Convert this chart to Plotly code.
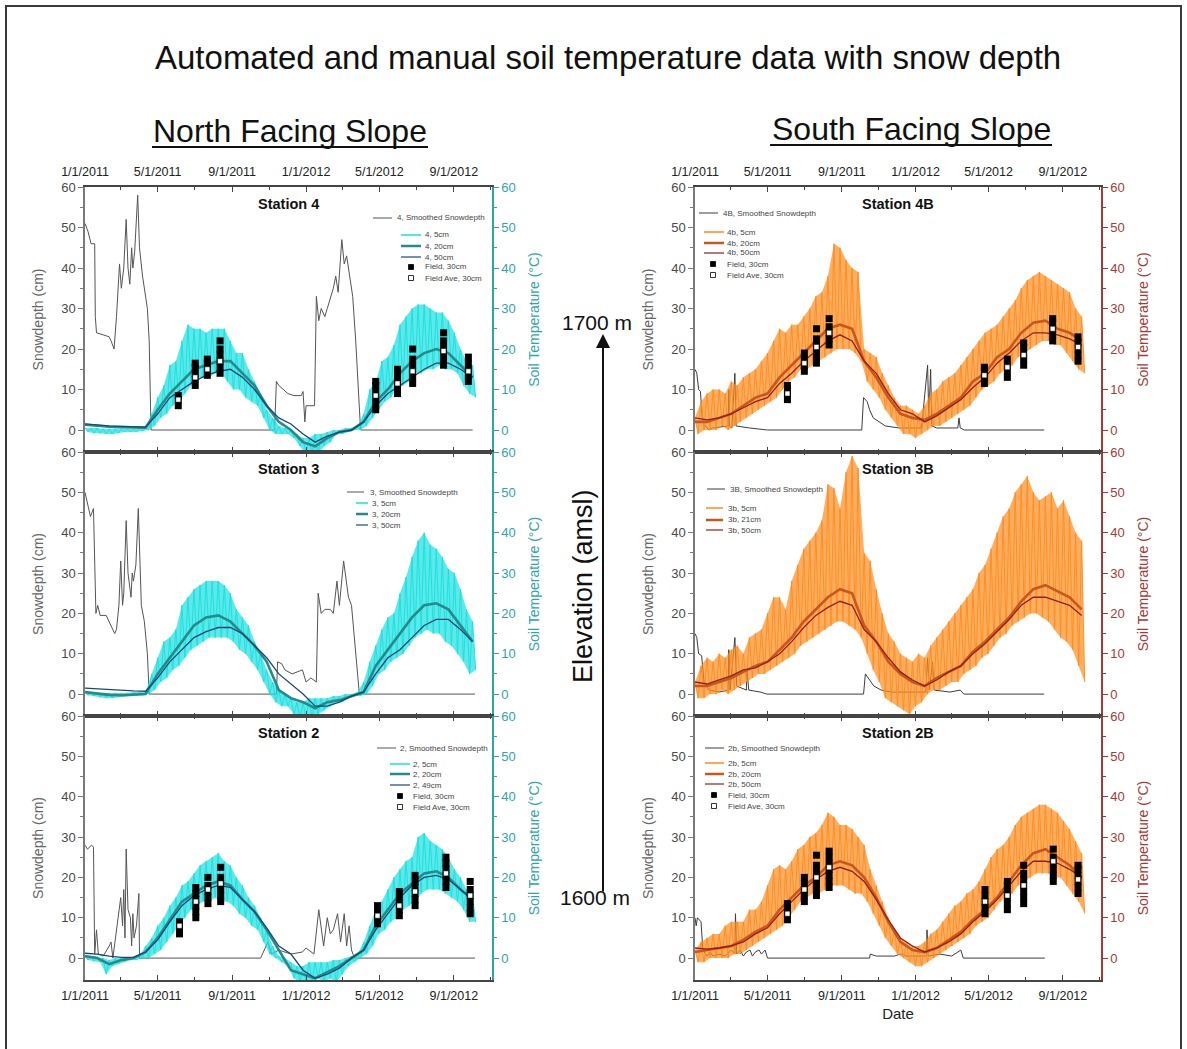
import plotly.graph_objects as go
import pandas as pd

W, H = 1187, 1049
BASE = pd.Timestamp("2011-01-01")

# ---------------- axes / ticks ----------------
TICK_DATES = ["2011-01-01", "2011-05-01", "2011-09-01", "2012-01-01", "2012-05-01", "2012-09-01"]
TICK_TEXT = ["1/1/2011", "5/1/2011", "9/1/2011", "1/1/2012", "5/1/2012", "9/1/2012"]
MINOR_DATES = ["2011-03-01", "2011-07-01", "2011-11-01", "2012-03-01", "2012-07-01", "2012-11-01"]
X_RANGE = ["2011-01-01", "2012-11-03"]
Y_TICKS = [0, 10, 20, 30, 40, 50, 60]
Y_MINOR = [5, 15, 25, 35, 45, 55]
Y_RANGE = [-5.43, 60]

# sampling days (offset from 1/1/2011)
GRID10 = list(range(0, 641, 10))
GRID20 = list(range(0, 641, 20))

# ---------------- Station 4 ----------------
S4_SNOW_DAY = [0, 5, 10, 16, 17, 19, 30, 40, 43, 48, 52, 57, 60, 64, 68, 71, 74, 77, 79, 82, 87, 90, 95, 98, 103, 106, 109,
               313, 316, 320, 328, 335, 345, 357, 360, 363, 365, 379, 382, 386, 390, 396, 400, 404, 410, 414, 418, 424,
               428, 432, 437, 442, 447, 451, 455, 640]
S4_SNOW = [51, 49, 46, 46, 28, 24, 23.5, 23, 22, 20, 28, 41, 35, 40, 52, 40, 36, 45, 40, 44, 58, 45, 38, 35, 30, 22, 0,
           0, 12, 11, 10, 9, 8.5, 8.5, 9.5, 2, 6, 6, 33, 27, 30, 28, 30, 32, 35, 38, 34, 47,
           41, 43, 38, 33, 22, 12, 0, 0]
S4_T5_HI = [0.5, 0.5, 0.5, 0.3, 0.3, 0.3, 0.3, 0.3, 0.3, 0.5, 0.5, 4, 8, 11, 16, 17, 22, 26, 25, 25,
            24, 25, 25, 25, 22, 19, 19, 15, 12, 9, 5, 3, 1, 0.5, 0, -1, -2, -2, -1, -1,
            -0.5, 0, 0, 0.5, 0.5, 1, 4, 10, 12, 17, 18, 21, 26, 28, 30, 31, 31, 30, 29, 29,
            27, 24, 20, 17, 16]
S4_T5_LO = [-0.5, -0.8, -0.8, -1, -1, -0.8, -0.5, -0.5, -0.5, -0.3, 0, 1, 3, 4, 6, 7, 9, 11, 13, 13,
            13, 14, 14, 12, 10, 10, 8, 7, 6, 3, 0, -1, -1, -1, -2, -4, -6, -6, -6, -4,
            -3, -1, -1, -0.5, 0, 0, 1, 3, 5, 7, 8, 10, 11, 12, 14, 14, 15, 15, 16, 15,
            15, 14, 11, 9, 8]
S4_T20 = [1.3, 1.0, 0.8, 0.7, 0.6, 0.6, 5, 9, 12, 15, 16, 17, 17,
          14, 11, 6, 2, 0, -3, -4, -2, -0.5, 0, 2, 7, 10, 14, 17, 19, 20, 19, 16, 13]
S4_T50 = [1.5, 1.2, 1.0, 0.9, 0.8, 0.7, 4, 8, 10, 12, 13.5, 14.5, 15,
          13, 10, 6, 3, 1.5, -1, -3, -1.5, -0.5, 0, 2, 6, 9, 11, 13, 15, 16.5, 16.5, 15, 13]
S4_FIELD_DAY = [154, 182, 202, 223, 480, 516, 541, 592, 633]
S4_FIELD = [[6, 7.5, 8.5], [11, 12.5, 14, 15.5, 16.5], [13.5, 15, 16.5, 17.5], [14, 15.5, 17, 18.5, 20, 22],
            [5, 6.5, 8, 9.5, 11, 12], [9, 10.5, 12, 13.5, 15], [11.5, 13, 14.5, 16, 17.5, 20],
            [16, 17.5, 19, 20.5, 22, 24], [12, 13.5, 15, 16.5, 18]]
S4_FIELD_AVE = [7.5, 13, 15, 17, 8.5, 11.5, 14.5, 19.5, 14.5]
S4_LABELS = ["4, Smoothed Snowdepth", "4, 5cm", "4, 20cm", "4, 50cm", "Field, 30cm", "Field Ave, 30cm"]

# ---------------- Station 3 ----------------
S3_SNOW_DAY = [0, 6, 9, 14, 18, 21, 25, 35, 40, 46, 49, 52, 56, 59, 62, 64, 68, 71, 73, 76, 78, 80, 84, 88, 93, 98, 103, 106,
               316, 318, 325, 330, 342, 359, 365, 373, 382, 385, 390, 396, 405, 410, 416, 420, 427, 431, 435, 440, 444,
               449, 453, 644]
S3_SNOW = [50, 46, 44, 46, 20, 22, 19.5, 19.5, 18, 16, 15, 16, 22, 33, 22, 25, 43, 30, 28, 24, 30, 28, 32, 46, 22, 18, 10, 0,
           0, 8, 7.5, 6, 5, 6, 3, 4, 3, 25, 20, 21, 21, 20, 28, 22, 33, 28, 24, 22, 15,
           8, 0, 0]
S3_T5_HI = [0.5, 0.5, 0.3, 0.3, 0.3, 0.3, 0.3, 0.3, 0.5, 0.5, 0.5, 5, 9, 13, 14, 16, 22, 24, 26, 27,
            28, 28, 28, 27, 25, 21, 19, 17, 13, 10, 6, 3, 1, 0, -1, -2, -2, -1, -1, -1,
            -1, -0.5, -0.5, 0, 0, 0.5, 3, 8, 12, 16, 19, 20, 25, 29, 34, 38, 40, 37, 36, 34,
            31, 30, 26, 21, 18]
S3_T5_LO = [-0.3, -0.5, -0.8, -1, -1, -0.8, -0.6, -0.5, -0.4, -0.3, 0, 1, 3, 4, 6, 7, 9, 11, 12, 13,
            14, 14, 14, 14, 13, 11, 10, 8, 6, 3, 0, -2, -3, -3, -5, -6, -6, -6, -5, -4,
            -3, -2, -2, -1, -0.5, -0.5, 0, 2, 5, 6, 8, 9, 10, 12, 14, 15, 16, 15, 15, 13,
            12, 10, 8, 5, 6]
S3_T20 = [0.5, 0.2, -0.2, -0.3, -0.1, 0, 5, 9, 13, 17, 19, 19.5, 18,
          15, 12, 8, 1, -1, -2, -3.5, -2, -1.5, -0.5, 0.5, 7, 11, 15, 19, 22, 22.5, 21, 17, 13]
S3_T50 = [1.5, 1.3, 1.1, 0.9, 0.8, 0.7, 4, 8, 11, 14, 15.5, 16.5, 16.5,
          15, 12, 9, 5, 2.5, 0, -3, -3, -2, -0.5, 0.5, 5, 9, 11, 14, 17, 18.5, 18.5, 16, 13]
S3_LABELS = ["3, Smoothed Snowdepth", "3, 5cm", "3, 20cm", "3, 50cm"]

# ---------------- Station 2 ----------------
S2_SNOW_DAY = [0, 4, 11, 14, 16, 19, 22, 30, 40, 43, 46, 59, 62, 64, 66, 68, 71, 75, 77, 79, 81, 85, 89, 90,
               290, 296, 302, 308, 320, 340, 359, 365, 378, 386, 390, 394, 400, 405, 410, 417, 422, 428, 432, 436,
               440, 445, 644]
S2_SNOW = [28, 27, 28, 27.5, 1, 7, 1, 0.5, 3, 4, 0, 15, 8, 17, 5, 27, 12, 10, 3, 11, 5, 8, 16, 0,
           0, 2, 4, 1, 2, 1, 1.5, 2.5, 1, 12, 8, 3, 10, 6, 7, 11, 4, 11, 3, 8,
           2, 0, 0]
S2_T5_HI = [0.5, 0.5, 0.3, 0, -0.5, 0, 0, 0, 0, 0.5, 3, 5, 8, 10, 13, 15, 18, 19, 21, 23,
            24, 25, 26, 24, 23, 20, 18, 15, 13, 10, 7, 3, 0.5, 0, -1, -2, -2, -1, -1, -1,
            -1, -0.5, -0.5, 0, 0.5, 1, 4, 8, 12, 14, 17, 20, 22, 24, 25, 30, 31, 29, 28, 27,
            25, 22, 20, 17, 15]
S2_T5_LO = [-0.5, -0.8, -1, -4, -2, -1.5, -1, -0.5, -0.5, 0, 0, 1, 2, 4, 6, 8, 10, 12, 13, 14,
            14, 15, 14, 14, 13, 11, 10, 8, 7, 4, 1, 0, -1, -2, -5, -6, -6, -6, -5, -6,
            -5, -6, -4, -2, -1, 0, 1, 3, 6, 7, 9, 10, 12, 13, 14, 16, 17, 17, 17, 16,
            15, 14, 12, 9, 9]
S2_T20 = [0.5, 0, -1.5, -0.5, 0, 1.5, 5, 9.5, 14, 16, 18, 19, 18,
          14.5, 11.5, 7, 2, -3, -4, -5, -3.5, -2, 0, 2, 8, 12, 16, 18.5, 21, 21.5, 20, 17, 14.5]
S2_T49 = [1.2, 1.0, 0.5, 0.2, 0.2, 1.5, 4.5, 9, 13, 15.5, 17, 18, 17.5,
          14.5, 11.5, 7.5, 3, 1, -3, -5, -4, -2.5, 0, 2, 7, 11, 15, 18, 20, 20.5, 19.5, 17, 14.5]
S2_FIELD_DAY = [156, 183, 203, 224, 483, 519, 545, 596, 636]
S2_FIELD = [[6, 7.5, 9], [10, 11.5, 13, 14.5, 16, 17.5], [13.5, 15, 16.5, 18, 20], [14, 15.5, 17, 18.5, 20, 22.5],
            [8.5, 10, 11.5, 13], [10.5, 12, 13.5, 15, 16.5], [13, 14.5, 16, 17.5, 19, 20.5],
            [17.5, 19, 20.5, 22, 23.5, 25], [11, 12.5, 14, 15.5, 17, 19]]
S2_FIELD_AVE = [8, 14, 17, 18.5, 10.5, 13, 16.5, 21, 15.5]
S2_LABELS = ["2, Smoothed Snowdepth", "2, 5cm", "2, 20cm", "2, 49cm", "Field, 30cm", "Field Ave, 30cm"]

# ---------------- Station 4B ----------------
S4B_SNOW_DAY = [0, 3, 6, 9, 12, 17, 23, 29, 55, 56, 57, 61, 66, 68, 90, 120,
                276, 279, 285, 289, 295, 305, 315, 338, 375, 385, 387, 390, 392, 400, 435, 437, 439, 446, 578]
S4B_SNOW = [15, 14, 10, 9.5, 3, 1, 0, 0.5, 1, 10, 1, 0.5, 14, 1, 0.5, 0,
            0, 8, 7, 5, 3, 2, 1, 0.5, 0.5, 16, 3, 15, 1, 0.5, 0.5, 3, 0.5, 0, 0]
S4B_T5_HI = [3, 7, 9, 10, 10, 9, 12, 11, 13, 14, 15, 17, 19, 22, 25, 24, 26, 26, 28, 30,
             33, 34, 38, 46, 45, 42, 40, 39, 20, 19, 18, 14, 11, 8, 6, 6, 5, 4, 6, 9,
             10, 12, 13, 14, 16, 18, 20, 22, 24, 25, 26, 28, 30, 32, 35, 37, 38, 39, 38, 37,
             36, 35, 34, 30, 28]
S4B_T5_LO = [-1, 0, 0, 0, 1, 0, 1, 2, 3, 4, 5, 6, 7, 8, 10, 12, 13, 15, 15, 16,
             17, 18, 19, 20, 20, 20, 19, 17, 12, 10, 8, 5, 3, 1, -1, -1, -2, -1, 0, 1,
             1, 2, 3, 4, 5, 6, 8, 10, 11, 12, 14, 15, 16, 18, 19, 20, 21, 22, 22, 21,
             21, 19, 17, 15, 14]
S4B_T20 = [2, 2, 3, 4, 6, 8, 9, 13, 16, 19, 22, 25, 26,
           25, 17, 13, 8, 4, 3, 2.5, 4, 6, 8, 12, 14, 18, 20, 24, 26.5, 27, 25, 24, 22]
S4B_T50 = [3, 2.5, 3, 4, 5.5, 7, 8, 11.5, 14, 17, 19.5, 22, 23.5,
           22, 17, 14, 9, 5, 4, 2, 3.5, 5.5, 7.5, 10.5, 13, 16.5, 19, 22, 24, 24, 23.5, 22.5, 21]
S4B_FIELD_DAY = [153, 181, 201, 222, 479, 517, 544, 592, 634]
S4B_FIELD = [[7.5, 9, 10, 11], [14.5, 16, 17.5, 19], [16.5, 18, 19.5, 21, 22.5, 25], [21, 22.5, 24, 25.5, 27.5],
             [11.5, 13, 14.5, 15.5], [13, 14.5, 16, 17.5], [16, 17.5, 19, 20.5, 21.5],
             [22, 23.5, 25, 26.5, 27.5], [17, 18.5, 20, 21.5, 23]]
S4B_FIELD_AVE = [9, 16.5, 20.5, 24, 13.5, 15.5, 18.5, 25, 20.5]
S4B_LABELS = ["4B, Smoothed Snowdepth", "4b, 5cm", "4b, 20cm", "4b, 50cm", "Field, 30cm", "Field Ave, 30cm"]

# ---------------- Station 3B ----------------
S3B_SNOW_DAY = [0, 3, 6, 11, 15, 23, 40, 55, 56, 58, 66, 69, 85, 86, 89, 108, 119,
                279, 282, 287, 296, 308, 325, 382, 385, 388, 393, 396, 422, 439, 445, 578]
S3B_SNOW = [15, 14, 10, 9.5, 3, 1, 0.5, 1, 11, 1, 14, 2, 1, 6, 1, 0.5, 0,
            0, 5, 4, 2, 1, 0.5, 0.5, 9, 1, 8, 1, 0.5, 1, 0, 0]
S3B_T5_HI = [3, 7, 9, 8, 10, 9, 11, 12, 10, 14, 15, 16, 20, 24, 24, 21, 28, 32, 36, 38,
             40, 43, 52, 51, 46, 55, 59, 56, 35, 33, 26, 20, 15, 13, 10, 9, 8, 10, 9, 12,
             14, 16, 18, 20, 22, 24, 26, 30, 32, 36, 40, 44, 46, 50, 52, 54, 50, 48, 49, 50,
             46, 48, 44, 40, 38]
S3B_T5_LO = [-1, -1, 0, 0, 1, 0, 1, 2, 3, 4, 5, 5, 6, 7, 8, 9, 10, 12, 13, 14,
             15, 16, 17, 18, 18, 17, 16, 14, 10, 6, 3, -1, -2, -3, -4, -5, -3, -2, 0, 1,
             1, 2, 3, 3, 5, 6, 7, 9, 10, 12, 14, 15, 17, 18, 19, 20, 20, 19, 18, 16,
             14, 13, 11, 7, 3]
S3B_T21 = [2, 2, 3, 4, 5.5, 7, 8, 11, 14, 18, 21, 24, 26,
           25, 17, 13, 8, 5, 3, 2, 4, 5.5, 7, 10.5, 13, 16, 19, 23, 26, 27, 25.5, 24, 21]
S3B_T50 = [3, 2.5, 3.5, 4.5, 6, 6.5, 8, 10, 13, 16.5, 19.5, 21.5, 23,
           22, 16, 13, 9, 5.5, 3.5, 2, 3.5, 5.5, 7, 10, 12.5, 15.5, 18.5, 22, 24, 24, 23, 22, 19.5]
S3B_LABELS = ["3B, Smoothed Snowdepth", "3b, 5cm", "3b, 21cm", "3b, 50cm"]

# ---------------- Station 2B ----------------
S2B_SNOW_DAY = [0, 2, 4, 10, 13, 20, 25, 30, 40, 50, 60, 66, 67, 69, 75, 80, 85, 91, 95, 100, 106, 110, 116, 120,
                289, 290, 300, 330, 340, 350, 383, 384, 386, 405, 425, 440, 444, 579]
S2B_SNOW = [10, 8, 10, 9, 2, 0.5, 1.5, 0.5, 1, 0.5, 2, 1, 11, 1, 2, 0.5, 1.5, 2, 0.5, 1.5, 2, 1, 2, 0,
            0, 1, 0.5, 0.5, 1, 0.5, 0.5, 7, 0.5, 1, 0.5, 2, 0, 0]
S2B_T5_HI = [2, 4, 5, 6, 6, 8, 9, 9, 9, 12, 12, 14, 18, 22, 23, 22, 24, 27, 28, 30,
             31, 33, 36, 35, 33, 33, 32, 30, 28, 22, 18, 14, 10, 7, 5, 4, 3, 3, 4, 6,
             7, 9, 11, 13, 14, 16, 17, 19, 22, 25, 27, 28, 30, 33, 35, 36, 37, 38, 38, 37,
             36, 34, 32, 29, 26]
S2B_T5_LO = [-1, -1, 0, 0, 0, 0, 1, 1, 2, 3, 4, 5, 6, 7, 8, 10, 12, 14, 15, 16,
             16, 17, 18, 18, 18, 17, 16, 16, 14, 11, 8, 5, 3, 1, 0, -1, -2, -2, -1, 0,
             1, 2, 3, 4, 5, 6, 8, 9, 10, 12, 14, 15, 16, 18, 19, 20, 21, 21, 21, 20,
             20, 18, 16, 14, 11]
S2B_T20 = [1.5, 2, 2.5, 3, 4.5, 6.5, 8, 12, 15, 18, 20, 23, 24,
           23, 20, 15, 9, 4, 2, 1.5, 2.5, 4.5, 6.5, 9.5, 12, 15, 19, 23, 26, 27, 25, 23, 20]
S2B_T50 = [2.5, 2.2, 2.5, 3, 4, 6, 7.5, 11, 14, 17, 19.5, 21.5, 22.5,
           21.5, 19, 14.5, 9.5, 5, 3, 1.5, 2.5, 4, 6, 9, 11.5, 14.5, 18, 21.5, 24, 24, 23.5, 22, 20]
S2B_FIELD_DAY = [153, 181, 201, 222, 480, 517, 544, 593, 634]
S2B_FIELD = [[9.5, 11, 12.5, 13.5], [14, 15.5, 17, 18.5, 20], [15.5, 17, 18.5, 20, 21.5, 23, 25.5],
             [17.5, 19, 20.5, 22, 23.5, 25, 26.5], [11, 12.5, 14, 15.5, 17], [12, 13.5, 15, 16.5, 18, 19],
             [13.5, 15, 16.5, 18, 19.5, 21, 23], [19, 20.5, 22, 23.5, 25, 27], [16, 17.5, 19, 20.5, 22, 23]]
S2B_FIELD_AVE = [11, 17, 20, 22.5, 14, 15.5, 18, 24, 19.5]
S2B_LABELS = ["2b, Smoothed Snowdepth", "2b, 5cm", "2b, 20cm", "2b, 50cm", "Field, 30cm", "Field Ave, 30cm"]

# ---------------- styles ----------------
FONT = "Liberation Sans, Arial, sans-serif"
NORTH = dict(t5="#16e0e0", t5fill="rgba(22,224,224,0.7)", t20="#268a8b", t50="#1d4675",
             axis="#2fa6a6", snow="#555555")
SOUTH = dict(t5="#ff8b1d", t5fill="rgba(255,139,29,0.7)", t20="#c8561d", t50="#8c1f22",
             axis="#a23b36", snow="#3d3d3d")
COL_X = [(85, 492), (695, 1101)]
ROW_Y = [(187, 452), (452, 716), (716, 980)]

PANELS = [
    dict(title="Station 4", col=0, row=0, sd=S4_SNOW_DAY, s=S4_SNOW, hi=S4_T5_HI, lo=S4_T5_LO, t20=S4_T20, t50=S4_T50,
         fd=S4_FIELD_DAY, f=S4_FIELD, fa=S4_FIELD_AVE, labels=S4_LABELS,
         leg=dict(snow=(373, 392, 395, 218), line=(401, 421), tx=423, ys=[235, 246, 257, 267, 278], mx=411)),
    dict(title="Station 3", col=0, row=1, sd=S3_SNOW_DAY, s=S3_SNOW, hi=S3_T5_HI, lo=S3_T5_LO, t20=S3_T20, t50=S3_T50,
         fd=None, f=None, fa=None, labels=S3_LABELS,
         leg=dict(snow=(347, 364, 368, 492), line=(356, 368), tx=370, ys=[503, 514, 525], mx=362)),
    dict(title="Station 2", col=0, row=2, sd=S2_SNOW_DAY, s=S2_SNOW, hi=S2_T5_HI, lo=S2_T5_LO, t20=S2_T20, t50=S2_T49,
         fd=S2_FIELD_DAY, f=S2_FIELD, fa=S2_FIELD_AVE, labels=S2_LABELS,
         leg=dict(snow=(377, 396, 398, 748), line=(390, 410), tx=411, ys=[764, 774, 785, 796, 807], mx=400)),
    dict(title="Station 4B", col=1, row=0, sd=S4B_SNOW_DAY, s=S4B_SNOW, hi=S4B_T5_HI, lo=S4B_T5_LO, t20=S4B_T20,
         t50=S4B_T50, fd=S4B_FIELD_DAY, f=S4B_FIELD, fa=S4B_FIELD_AVE, labels=S4B_LABELS,
         leg=dict(snow=(699, 718, 721, 213), line=(704, 724), tx=725, ys=[232, 243, 253, 264, 275], mx=713)),
    dict(title="Station 3B", col=1, row=1, sd=S3B_SNOW_DAY, s=S3B_SNOW, hi=S3B_T5_HI, lo=S3B_T5_LO, t20=S3B_T21,
         t50=S3B_T50, fd=None, f=None, fa=None, labels=S3B_LABELS,
         leg=dict(snow=(707, 725, 728, 489), line=(706, 723), tx=726, ys=[508, 520, 530], mx=714)),
    dict(title="Station 2B", col=1, row=2, sd=S2B_SNOW_DAY, s=S2B_SNOW, hi=S2B_T5_HI, lo=S2B_T5_LO, t20=S2B_T20,
         t50=S2B_T50, fd=S2B_FIELD_DAY, f=S2B_FIELD, fa=S2B_FIELD_AVE, labels=S2B_LABELS,
         leg=dict(snow=(705, 724, 726, 748), line=(705, 724), tx=726, ys=[763, 774, 784, 795, 806], mx=714)),
]


def day2date(d):
    return (BASE + pd.Timedelta(days=d)).strftime("%Y-%m-%d")


def dates(days):
    return [day2date(d) for d in days]


def px(x):
    return x / W


def py(y):
    return 1 - y / H


fig = go.Figure()
layout = dict(template="none", width=W, height=H, margin=dict(l=0, r=0, t=0, b=0, pad=0, autoexpand=False),
              autosize=False, paper_bgcolor="white", plot_bgcolor="rgba(0,0,0,0)", showlegend=False,
              font=dict(family=FONT, color="#333"))
shapes = []
annotations = []

for k, p in enumerate(PANELS, start=1):
    pal = NORTH if p["col"] == 0 else SOUTH
    xn = "x" if k == 1 else f"x{k}"
    yl_i, yr_i = 2 * k - 1, 2 * k
    yln = "y" if yl_i == 1 else f"y{yl_i}"
    yrn = f"y{yr_i}"
    x0, x1 = COL_X[p["col"]]
    ytop, ybot = ROW_Y[p["row"]]

    # snow depth (left axis)
    fig.add_trace(go.Scatter(x=dates(p["sd"]), y=p["s"], mode="lines",
                             line=dict(color=pal["snow"], width=1), xaxis=xn, yaxis=yln, hoverinfo="skip"))
    # 5cm band and noisy line
    lo_days = [d + 5 for d in GRID10]
    fig.add_trace(go.Scatter(x=dates(GRID10) + dates(lo_days[::-1]), y=p["hi"] + p["lo"][::-1],
                             mode="lines", fill="toself", fillcolor=pal["t5fill"], line=dict(width=0),
                             xaxis=xn, yaxis=yrn, hoverinfo="skip"))
    zx, zy = [], []
    for d, h, l in zip(GRID10, p["hi"], p["lo"]):
        zx += [day2date(d), day2date(d + 5)]
        zy += [h, l]
    fig.add_trace(go.Scatter(x=zx, y=zy, mode="lines", line=dict(color=pal["t5"], width=0.9),
                             xaxis=xn, yaxis=yrn, hoverinfo="skip"))
    fig.add_trace(go.Scatter(x=dates(GRID20), y=p["t20"], mode="lines", line=dict(color=pal["t20"], width=2.6),
                             xaxis=xn, yaxis=yrn, hoverinfo="skip"))
    fig.add_trace(go.Scatter(x=dates(GRID20), y=p["t50"], mode="lines", line=dict(color=pal["t50"], width=1.3),
                             xaxis=xn, yaxis=yrn, hoverinfo="skip"))
    if p["fd"] is not None:
        fx, fy = [], []
        for d, vals in zip(p["fd"], p["f"]):
            fx += [day2date(d)] * len(vals)
            fy += vals
        fig.add_trace(go.Scatter(x=fx, y=fy, mode="markers",
                                 marker=dict(symbol="square", size=7, color="black"),
                                 xaxis=xn, yaxis=yrn, hoverinfo="skip"))
        fig.add_trace(go.Scatter(x=dates(p["fd"]), y=p["fa"], mode="markers",
                                 marker=dict(symbol="square", size=5, color="white", line=dict(color="black", width=0.5)),
                                 xaxis=xn, yaxis=yrn, hoverinfo="skip"))

    # axes
    xdom = [px(x0), px(x1)]
    ydom = [py(ybot), py(ytop)]
    xa = dict(domain=xdom, anchor=yln, type="date", range=X_RANGE, tickvals=TICK_DATES, ticktext=TICK_TEXT,
              showgrid=False, zeroline=False, showline=True, linecolor="#454545", linewidth=2,
              mirror="ticks", ticks="inside", ticklen=5, tickcolor="#454545", automargin=False,
              minor=dict(tickvals=MINOR_DATES, ticks="inside", ticklen=3, tickcolor="#454545"),
              tickfont=dict(size=12.5, color="#222"))
    if p["row"] == 0:
        xa.update(side="top", showticklabels=True, ticklabelstandoff=4)
    elif p["row"] == 2:
        xa.update(side="bottom", showticklabels=True, ticklabelstandoff=3)
        if p["col"] == 1:
            xa.update(title=dict(text="Date", font=dict(size=15, color="#222"), standoff=6))
    else:
        xa.update(showticklabels=False)
    layout["xaxis" if k == 1 else f"xaxis{k}"] = xa

    yl = dict(domain=ydom, anchor=xn, range=Y_RANGE, tickvals=Y_TICKS, showgrid=False, zeroline=False,
              showline=True, linecolor="#7a7a7a", linewidth=1.5, ticks="outside", ticklen=5, tickcolor="#7a7a7a",
              minor=dict(tickvals=Y_MINOR, ticks="outside", ticklen=3, tickcolor="#7a7a7a"),
              tickfont=dict(size=13, color="#4a4a4a"), automargin=False,
              title=dict(text="Snowdepth (cm)", font=dict(size=14, color="#666"), standoff=14))
    yr = dict(overlaying=yln, side="right", anchor=xn, range=Y_RANGE, tickvals=Y_TICKS, showgrid=False,
              zeroline=False, showline=True, linecolor=pal["axis"], linewidth=1.5, ticks="outside", ticklen=5,
              tickcolor=pal["axis"], automargin=False,
              minor=dict(tickvals=Y_MINOR, ticks="outside", ticklen=3, tickcolor=pal["axis"]),
              tickfont=dict(size=13, color=pal["axis"]),
              title=dict(text="Soil Temperature (°C)", font=dict(size=14, color=pal["axis"]), standoff=14))
    layout["yaxis" if yl_i == 1 else f"yaxis{yl_i}"] = yl
    layout[f"yaxis{yr_i}"] = yr

    # station title
    annotations.append(dict(text=f"<b>{p['title']}</b>", x=px((x0 + x1) / 2), y=py(ytop + 17), xref="paper",
                            yref="paper", showarrow=False, font=dict(size=14.5, color="#111"),
                            xanchor="center", yanchor="middle"))

    # manual legend
    lg = p["leg"]
    sx0, sx1, stx, sy = lg["snow"]
    lfont = dict(size=8, color="#444")
    shapes.append(dict(type="line", xref="paper", yref="paper", x0=px(sx0), x1=px(sx1), y0=py(sy), y1=py(sy),
                       line=dict(color=pal["snow"], width=1)))
    annotations.append(dict(text=p["labels"][0], x=px(stx), y=py(sy), xref="paper", yref="paper",
                            showarrow=False, font=lfont, xanchor="left", yanchor="middle"))
    line_styles = [(pal["t5"], 1.5), (pal["t20"], 2.5), (pal["t50"], 1.2)]
    for i, lab in enumerate(p["labels"][1:]):
        yy = lg["ys"][i]
        if i < 3:
            c, w = line_styles[i]
            shapes.append(dict(type="line", xref="paper", yref="paper", x0=px(lg["line"][0]), x1=px(lg["line"][1]),
                               y0=py(yy), y1=py(yy), line=dict(color=c, width=w)))
        else:
            fill = "black" if i == 3 else "white"
            m = lg["mx"]
            shapes.append(dict(type="rect", xref="paper", yref="paper", x0=px(m - 2.5), x1=px(m + 2.5),
                               y0=py(yy + 2.5), y1=py(yy - 2.5), fillcolor=fill,
                               line=dict(color="black", width=0.8)))
        annotations.append(dict(text=lab, x=px(lg["tx"]), y=py(yy), xref="paper", yref="paper",
                                showarrow=False, font=lfont, xanchor="left", yanchor="middle"))

# headings
annotations.append(dict(text="Automated and manual soil temperature data with snow depth", x=px(608), y=py(57),
                        xref="paper", yref="paper", showarrow=False, font=dict(size=33, color="#111"),
                        xanchor="center", yanchor="middle"))
annotations.append(dict(text="North Facing Slope", x=px(290), y=py(131), xref="paper", yref="paper",
                        showarrow=False, font=dict(size=32, color="#111"), xanchor="center", yanchor="middle"))
annotations.append(dict(text="South Facing Slope", x=px(911), y=py(129), xref="paper", yref="paper",
                        showarrow=False, font=dict(size=32, color="#111"), xanchor="center", yanchor="middle"))
shapes.append(dict(type="line", xref="paper", yref="paper", x0=px(152), x1=px(428), y0=py(147), y1=py(147),
                   line=dict(color="#111", width=2)))
shapes.append(dict(type="line", xref="paper", yref="paper", x0=px(770), x1=px(1052), y0=py(145), y1=py(145),
                   line=dict(color="#111", width=2)))

# elevation arrow and labels
annotations.append(dict(text="", x=px(603), y=py(334), ax=0, ay=893 - 334, xref="paper", yref="paper",
                        showarrow=True, arrowhead=2, arrowsize=1.4, arrowwidth=2, arrowcolor="#111"))
annotations.append(dict(text="Elevation (amsl)", x=px(583), y=py(586), xref="paper", yref="paper",
                        showarrow=False, textangle=-90, font=dict(size=27, color="#111"),
                        xanchor="center", yanchor="middle"))
annotations.append(dict(text="1700 m", x=px(597), y=py(322), xref="paper", yref="paper", showarrow=False,
                        font=dict(size=21, color="#111"), xanchor="center", yanchor="middle"))
annotations.append(dict(text="1600 m", x=px(595), y=py(897), xref="paper", yref="paper", showarrow=False,
                        font=dict(size=21, color="#111"), xanchor="center", yanchor="middle"))

# outer frame
shapes.append(dict(type="rect", xref="paper", yref="paper", x0=px(6), x1=px(1181), y0=py(1062), y1=py(6),
                   line=dict(color="#3a3a3a", width=2), fillcolor="rgba(0,0,0,0)"))

layout["shapes"] = shapes
layout["annotations"] = annotations
fig.update_layout(**layout)
fig.write_html("out.html", config={"displayModeBar": False},
               post_script="document.body.style.margin='0px';")
